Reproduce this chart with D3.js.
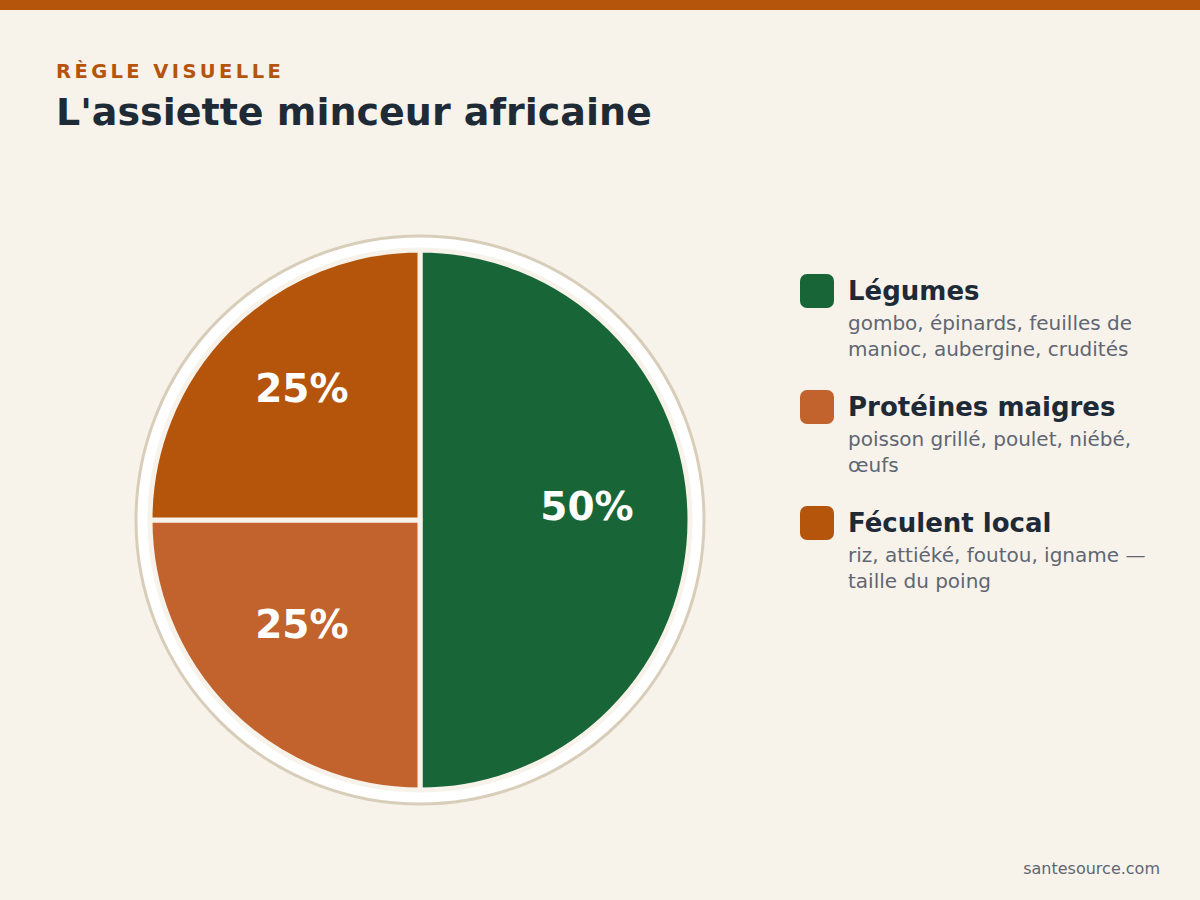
<!DOCTYPE html>
<html>
<head>
<meta charset="utf-8">
<script src="https://cdn.jsdelivr.net/npm/d3@7"></script>
<style>
  body { margin: 0; background: #f7f3eb; }
  svg { display: block; font-family: "DejaVu Sans", sans-serif; }
</style>
</head>
<body>
<div id="chart"></div>
<script>
// plate portions
const categories = ["Légumes", "Protéines maigres", "Féculent local"];
const shares = [50, 25, 25];
const details = [
  ["gombo, épinards, feuilles de", "manioc, aubergine, crudités"],
  ["poisson grillé, poulet, niébé,", "œufs"],
  ["riz, attiéké, foutou, igname —", "taille du poing"]
];
const colors = ["#186637", "#c2632d", "#b5540b"];

const width = 1200, height = 900;
const cx = 420, cy = 520;
const plateR = 284, sliceR = 270;

const svg = d3.select("#chart").append("svg")
  .attr("width", width)
  .attr("height", height);

svg.append("rect").attr("width", width).attr("height", height).attr("fill", "#f7f3eb");
svg.append("rect").attr("width", width).attr("height", 10).attr("fill", "#b5540b");

svg.append("text")
  .attr("x", 56).attr("y", 78)
  .attr("font-size", 19.5).attr("font-weight", "bold")
  .attr("letter-spacing", 3.4)
  .attr("fill", "#b5540b")
  .text("RÈGLE VISUELLE");

svg.append("text")
  .attr("x", 56).attr("y", 125)
  .attr("font-size", 38).attr("font-weight", "bold")
  .attr("fill", "#1f2a37")
  .text("L'assiette minceur africaine");

const g = svg.append("g").attr("transform", `translate(${cx},${cy})`);

// plate
g.append("circle")
  .attr("r", plateR)
  .attr("fill", "#ffffff")
  .attr("stroke", "#d8cdb9")
  .attr("stroke-width", 3);

const pie = d3.pie().sort(null).value(d => d);
const arcs = pie(shares);
const arc = d3.arc().innerRadius(0).outerRadius(sliceR);
const labelArc = d3.arc().innerRadius(167).outerRadius(167);

g.selectAll("path.slice")
  .data(arcs)
  .join("path")
  .attr("class", "slice")
  .attr("d", arc)
  .attr("fill", (d, i) => colors[i])
  .attr("stroke", "#f7f3eb")
  .attr("stroke-width", 5)
  .attr("stroke-linejoin", "round");

g.selectAll("text.pct")
  .data(arcs)
  .join("text")
  .attr("class", "pct")
  .attr("x", d => labelArc.centroid(d)[0])
  .attr("y", d => labelArc.centroid(d)[1])
  .attr("text-anchor", "middle")
  .attr("font-size", 39).attr("font-weight", "bold")
  .attr("fill", "#ffffff")
  .text(d => d.data + "%");

// legend
const legend = svg.append("g").attr("transform", "translate(800,274)");
const item = legend.selectAll("g.item")
  .data(categories)
  .join("g")
  .attr("class", "item")
  .attr("transform", (d, i) => `translate(0,${i * 116})`);

item.append("rect")
  .attr("width", 34).attr("height", 34).attr("rx", 7)
  .attr("fill", (d, i) => colors[i]);

item.append("text")
  .attr("x", 48).attr("y", 26)
  .attr("font-size", 26).attr("font-weight", "bold")
  .attr("fill", "#1f2a37")
  .text(d => d);

item.each(function(d, i) {
  d3.select(this).selectAll("text.desc")
    .data(details[i])
    .join("text")
    .attr("class", "desc")
    .attr("x", 48)
    .attr("y", (t, j) => 56 + j * 26)
    .attr("font-size", 20)
    .attr("fill", "#5f6673")
    .text(t => t);
});

svg.append("text")
  .attr("x", 1160).attr("y", 874)
  .attr("text-anchor", "end")
  .attr("font-size", 16)
  .attr("fill", "#5f6673")
  .text("santesource.com");
</script>
</body>
</html>
